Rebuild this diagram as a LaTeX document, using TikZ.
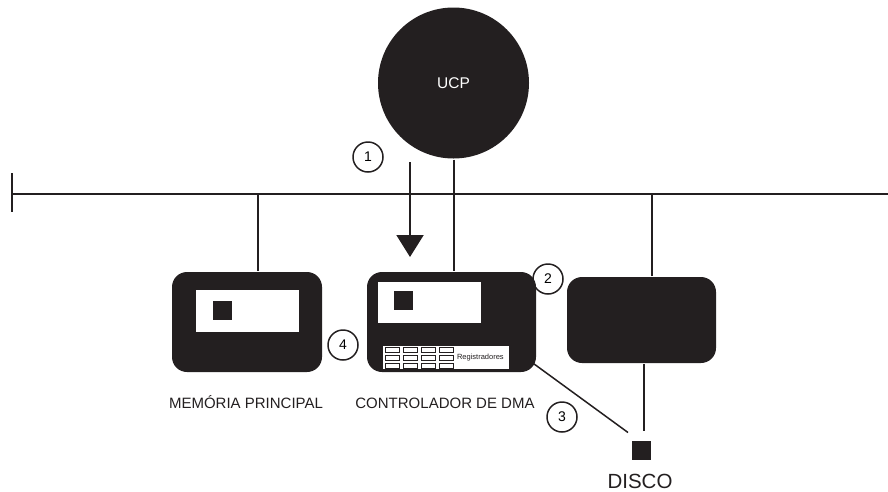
\documentclass[tikz,border=0pt]{standalone}
\usepackage{fontspec}
\setmainfont{Liberation Sans}
\usetikzlibrary{arrows.meta}
\definecolor{ink}{HTML}{231F20}

\begin{document}
\begin{tikzpicture}[x=1pt, y=-1pt, line width=2pt, draw=ink,
    box/.style={fill=ink, rounded corners=15pt, inner sep=0pt},
    panel/.style={fill=white, inner sep=0pt},
    chip/.style={fill=ink, minimum size=19pt, inner sep=0pt},
    num/.style={circle, draw=ink, line width=1.5pt, minimum size=30pt, inner sep=0pt, font=\fontsize{14}{14}\selectfont},
    caption/.style={anchor=base, inner sep=0pt, text=ink, font=\fontsize{15}{15}\selectfont}]
    \useasboundingbox (0,0) rectangle (888,491);
    \coordinate (busL) at (12,194);
    \coordinate (busR) at (888,194);
    \node[circle, fill=ink, minimum size=151pt, text=white, font=\fontsize{15.5}{15.5}\selectfont] (ucp) at (453.5,83) {UCP};
    \node[box, minimum width=150pt, minimum height=100pt] (mem) at (247,322) {};
    \node[box, minimum width=169pt, minimum height=100pt] (dma) at (451.5,322) {};
    \node[box, minimum width=149pt, minimum height=86pt] (ctl) at (641.5,320) {};
    \node[chip] (disk) at (641.5,450) {};
    % memoria
    \node[panel, minimum width=103pt, minimum height=42pt] (memP) at (247.5,311) {};
    \node[chip] (memSq) at (222.5,310.5) {};
    % controlador
    \node[panel, minimum width=103pt, minimum height=41pt] (dmaP) at (429.5,302.5) {};
    \node[chip] (dmaSq) at (403.5,300) {};
    \node[panel, minimum width=126pt, minimum height=23pt] (regs) at (446,357.5) {};
    \foreach \c in {0,...,3}
        \foreach \r in {0,1,2}
            \draw[line width=0.6pt, fill=white] (385.7+\c*17.7, 347.3+\r*8) rectangle ++(14,4.6);
    \node[anchor=west, inner sep=0pt, text=ink, font=\fontsize{7.5}{8}\selectfont] (regT) at (456,358) {Registradores};
    % barramento
    \draw (busL) -- (busR);
    \draw ([yshift=21pt]busL) -- ([yshift=-18pt]busL);
    \draw (ucp.south) -- (ucp.south |- dma.north);
    \draw ([xshift=11pt]mem.north) -- ([xshift=11pt]mem.north |- busL);
    \draw ([xshift=10.5pt]ctl.north) -- ([xshift=10.5pt]ctl.north |- busL);
    \draw ([xshift=2.5pt]ctl.south) -- ([xshift=2.5pt, yshift=9pt]disk.north);
    \draw[line width=1.5pt] ([shift={(-7,-12)}]dma.south east) -- ([shift={(-3,-7)}]disk.north west);
    \coordinate (a1) at (410,162);
    \coordinate (a2) at (410,257);
    \draw[-{Triangle[width=27pt, length=22pt]}] (a1) -- (a2);
    \node[num] (n1) at (368,157) {1};
    \node[num] (n2) at (548,279) {2};
    \node[num] (n3) at (562,417) {3};
    \node[num] (n4) at (343,345) {4};
    \node[caption] (memL) at (246,408) {MEMÓRIA PRINCIPAL};
    \node[caption] (dmaL) at (445,408) {CONTROLADOR DE DMA};
    \node[caption, font=\fontsize{20.5}{20.5}\selectfont] (diskL) at (640,488) {DISCO};
\end{tikzpicture}
\end{document}
